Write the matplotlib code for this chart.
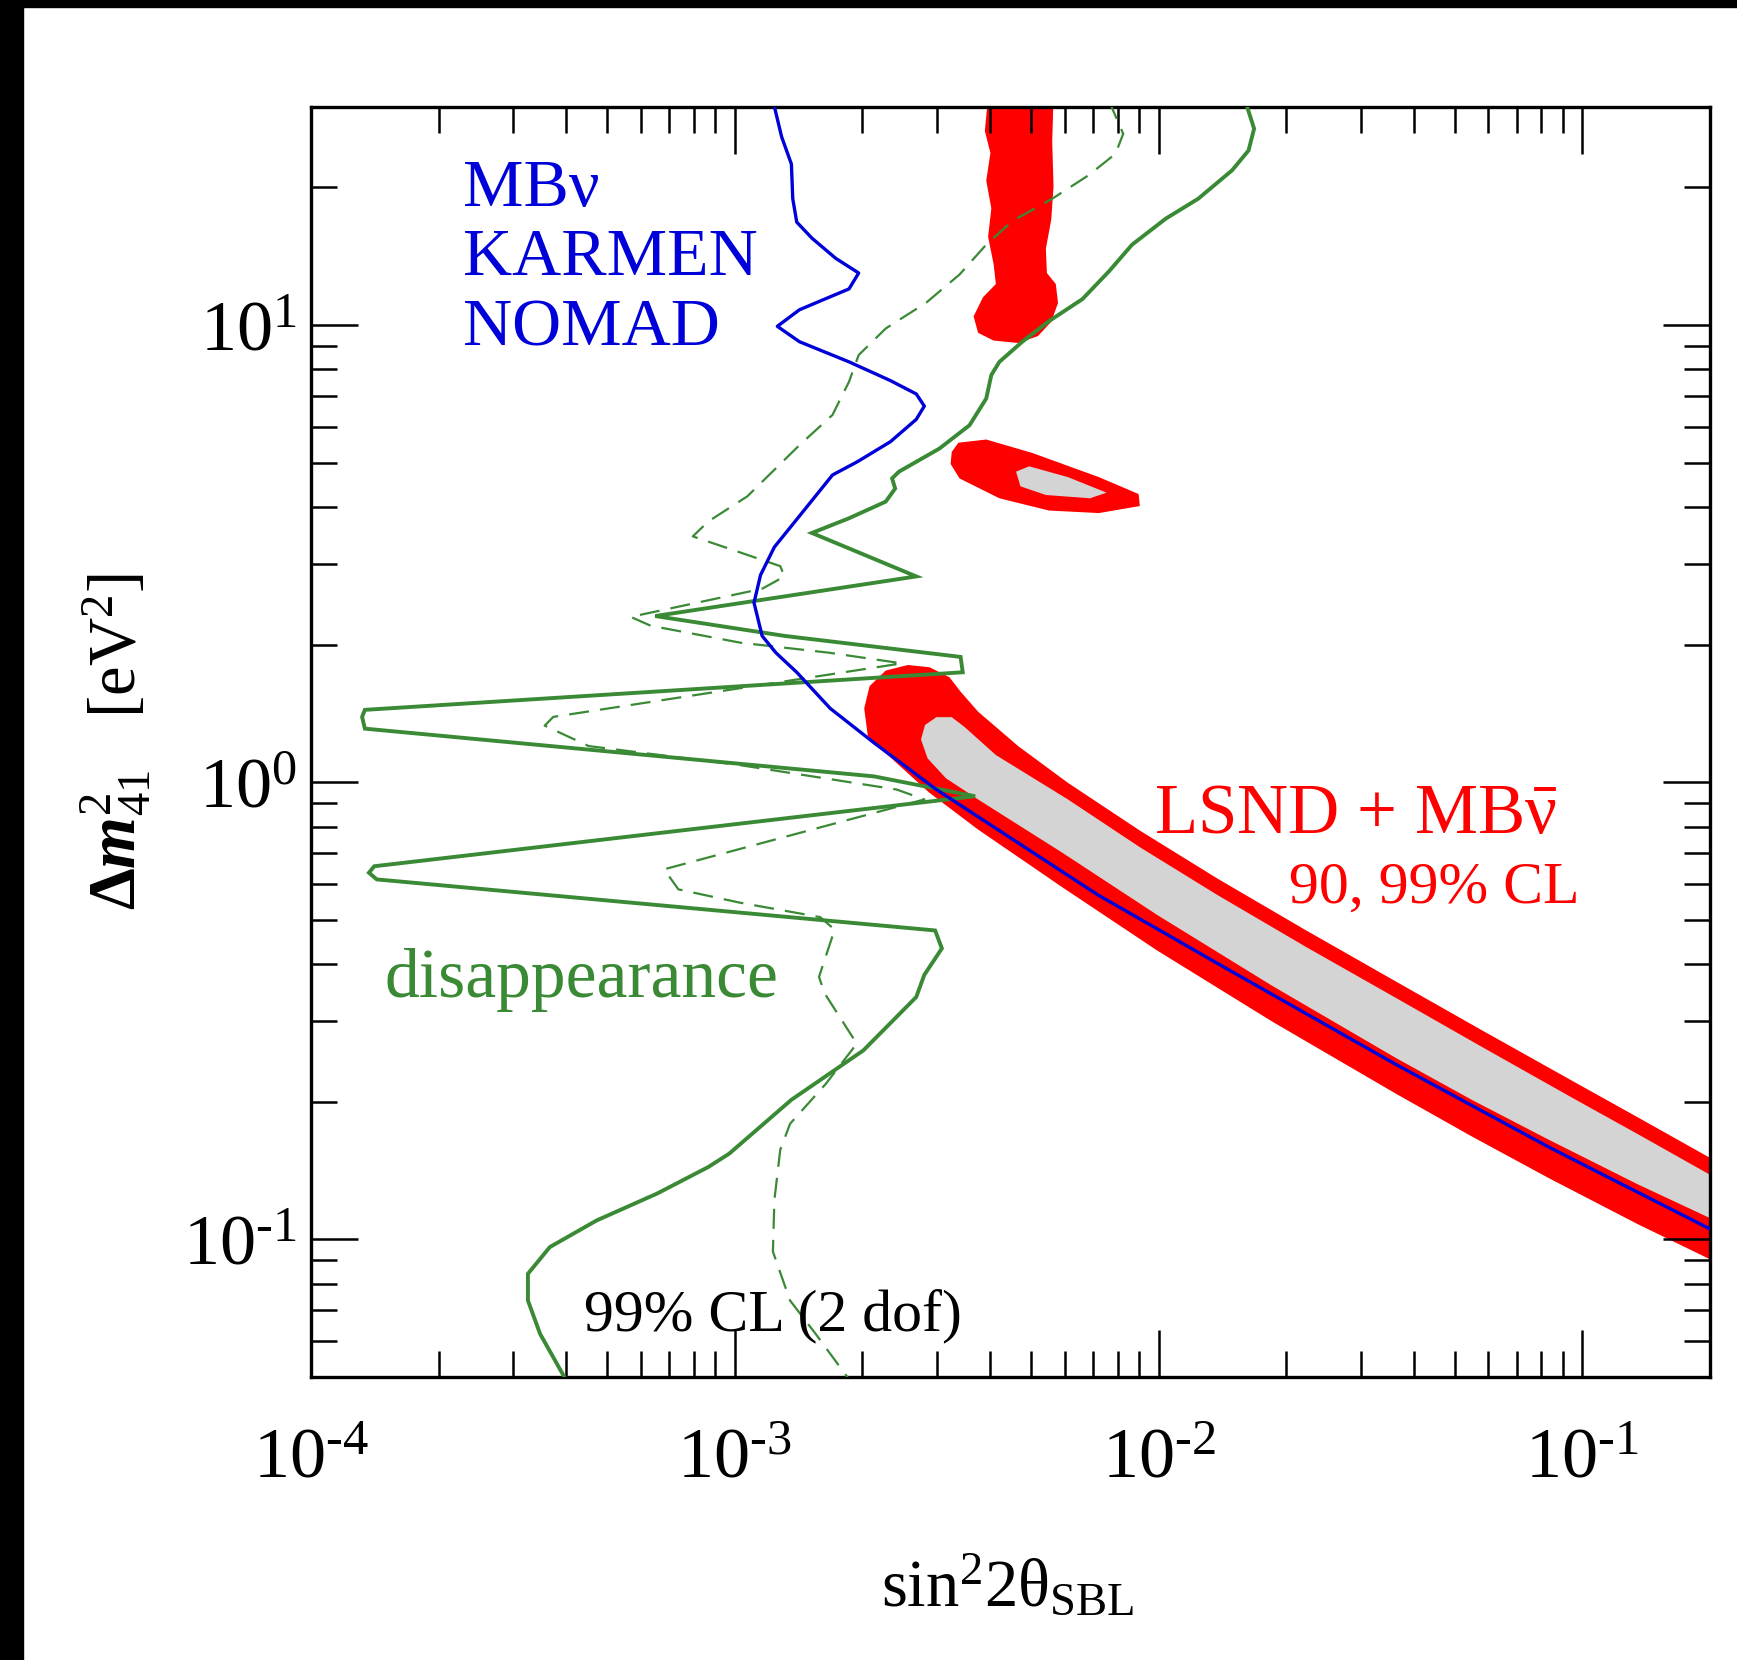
import math
import matplotlib
matplotlib.use("Agg")
import matplotlib.pyplot as plt
from matplotlib.patches import Rectangle
from matplotlib.ticker import LogLocator, NullFormatter, FuncFormatter

plt.rcParams['font.family'] = ['Liberation Serif', 'DejaVu Serif']
plt.rcParams['mathtext.fontset'] = 'custom'
plt.rcParams['mathtext.rm'] = 'Liberation Serif'
plt.rcParams['mathtext.it'] = 'Liberation Serif:italic'
plt.rcParams['mathtext.bf'] = 'Liberation Serif:bold'
plt.rcParams['mathtext.bfit'] = 'Liberation Serif:italic:bold'
plt.rcParams['axes.unicode_minus'] = False

# ---- appearance bound: MB nu + KARMEN + NOMAD (99% CL) ----
blue_x = [1.23e-3, 1.29e-3, 1.36e-3, 1.37e-3, 1.40e-3, 1.52e-3, 1.73e-3, 1.96e-3, 1.86e-3, 1.63e-3,
          1.42e-3, 1.26e-3, 1.42e-3, 1.86e-3, 2.33e-3, 2.68e-3, 2.80e-3, 2.68e-3, 2.33e-3, 1.95e-3,
          1.70e-3, 1.42e-3, 1.24e-3, 1.15e-3, 1.11e-3, 1.16e-3, 1.25e-3, 1.40e-3, 1.68e-3, 2.13e-3,
          2.99e-3, 7.19e-3, 1.38e-2, 3.64e-2, 8.35e-2, 0.21]
blue_y = [31.0, 25.8, 22.5, 18.9, 16.8, 15.5, 14.0, 13.0, 12.0, 11.4,
          10.8, 9.94, 9.20, 8.31, 7.56, 7.07, 6.65, 6.22, 5.56, 5.03,
          4.70, 3.82, 3.27, 2.84, 2.47, 2.09, 1.92, 1.74, 1.45, 1.22,
          0.964, 0.567, 0.401, 0.241, 0.159, 0.103]

# ---- disappearance bound (solid) ----
dis_x = [1.60e-2, 1.68e-2, 1.63e-2, 1.49e-2, 1.24e-2, 1.04e-2, 8.66e-3, 7.63e-3, 6.61e-3, 5.51e-3,
         4.77e-3, 4.21e-3, 4.03e-3, 3.92e-3, 3.58e-3, 3.04e-3, 2.44e-3, 2.35e-3, 2.39e-3, 2.27e-3,
         1.86e-3, 1.52e-3, 2.68e-3, 6.49e-4, 1.31e-3, 3.41e-3, 3.45e-3, 1.34e-4, 1.32e-4, 1.34e-4,
         2.13e-3, 3.69e-3, 1.41e-4, 1.37e-4, 1.43e-4, 2.97e-3, 3.08e-3, 2.80e-3, 2.68e-3, 2.01e-3,
         1.36e-3, 9.70e-4, 8.66e-4, 6.56e-4, 4.72e-4, 3.66e-4, 3.25e-4, 3.25e-4, 3.47e-4, 3.99e-4]
dis_y = [31.0, 26.9, 24.1, 21.8, 18.9, 17.1, 15.0, 13.1, 11.4, 10.2,
         9.20, 8.31, 7.78, 6.91, 6.04, 5.37, 4.78, 4.62, 4.39, 4.11,
         3.78, 3.51, 2.82, 2.31, 2.09, 1.88, 1.74, 1.44, 1.39, 1.31,
         1.03, 0.932, 0.655, 0.634, 0.613, 0.474, 0.433, 0.379, 0.339, 0.259,
         0.202, 0.154, 0.144, 0.126, 0.110, 0.0962, 0.0841, 0.0735, 0.0622, 0.0494]

# ---- disappearance bound (dashed) ----
dis2_x = [7.63e-3, 8.25e-3, 7.91e-3, 6.85e-3, 5.61e-3, 4.52e-3, 3.92e-3, 3.39e-3, 2.83e-3, 2.27e-3,
          1.96e-3, 1.86e-3, 1.70e-3, 1.42e-3, 1.07e-3, 8.66e-4, 7.96e-4, 9.82e-4, 1.28e-3, 1.31e-3,
          1.16e-3, 6.33e-4, 5.68e-4, 6.33e-4, 1.03e-3, 1.67e-3, 2.48e-3, 3.73e-4, 3.56e-4, 4.52e-4,
          1.03e-3, 2.41e-3, 2.80e-3, 6.81e-4, 7.36e-4, 1.03e-3, 1.59e-3, 1.72e-3, 1.58e-3, 1.63e-3,
          1.94e-3, 1.64e-3, 1.35e-3, 1.28e-3, 1.24e-3, 1.23e-3, 1.35e-3, 1.55e-3, 1.86e-3]
dis2_y = [31.0, 26.2, 23.7, 21.3, 18.9, 16.9, 15.0, 12.9, 11.2, 9.83,
          8.60, 7.52, 6.36, 5.46, 4.22, 3.72, 3.45, 3.23, 2.97, 2.82,
          2.65, 2.35, 2.30, 2.20, 2.02, 1.92, 1.82, 1.39, 1.33, 1.20,
          1.09, 0.964, 0.917, 0.645, 0.583, 0.545, 0.507, 0.476, 0.375, 0.345,
          0.268, 0.219, 0.179, 0.157, 0.122, 0.0940, 0.0735, 0.0622, 0.0494]

# ---- LSND + MB anti-nu allowed regions ----
# high-mass column (99% CL)
col99_x = [3.96e-3, 3.89e-3, 4.01e-3, 3.92e-3, 4.03e-3, 3.96e-3, 4.08e-3, 4.13e-3, 3.85e-3, 3.66e-3,
           3.75e-3, 4.08e-3, 4.66e-3, 5.19e-3, 5.58e-3, 5.79e-3, 5.72e-3, 5.45e-3, 5.42e-3, 5.58e-3,
           5.65e-3, 5.61e-3, 5.65e-3]
col99_y = [31.5, 26.6, 23.8, 20.7, 18.0, 15.6, 13.6, 12.3, 11.5, 10.45,
           9.62, 9.25, 9.14, 9.46, 10.17, 11.18, 12.3, 13.0, 14.7, 17.0,
           20.1, 25.2, 31.5]
# island near 4-5 eV^2
isl99_x = [3.25e-3, 3.37e-3, 3.92e-3, 5.04e-3, 7.23e-3, 8.97e-3, 9.03e-3, 7.23e-3, 5.51e-3, 4.21e-3, 3.39e-3, 3.23e-3]
isl99_y = [5.28, 5.53, 5.62, 5.25, 4.65, 4.27, 4.02, 3.88, 3.93, 4.18, 4.62, 4.97]
isl90_x = [4.61e-3, 4.95e-3, 6.11e-3, 7.54e-3, 6.89e-3, 5.42e-3, 4.72e-3]
isl90_y = [4.78, 4.91, 4.65, 4.30, 4.18, 4.25, 4.44]
# main band, 99% CL
band99_x = [2.06e-3, 2.02e-3, 2.08e-3, 2.27e-3, 2.56e-3, 2.88e-3, 3.21e-3, 3.41e-3, 3.75e-3, 4.66e-3,
            6.11e-3, 9.03e-3, 1.375e-2, 2.23e-2, 3.64e-2, 5.82e-2, 9.65e-2, 0.135, 0.21, 0.21,
            0.135, 8.35e-2, 5.48e-2, 3.64e-2, 1.86e-2, 9.94e-3, 5.93e-3, 3.75e-3, 2.88e-3, 2.31e-3,
            2.13e-3]
band99_y = [1.262, 1.451, 1.623, 1.755, 1.805, 1.785, 1.697, 1.578, 1.427, 1.20,
            0.997, 0.784, 0.616, 0.474, 0.366, 0.286, 0.220, 0.185, 0.147, 0.0885,
            0.108, 0.136, 0.168, 0.208, 0.299, 0.428, 0.589, 0.788, 0.948, 1.141,
            1.213]
# main band, 90% CL
band90_x = [2.75e-3, 2.81e-3, 2.99e-3, 3.25e-3, 3.49e-3, 4.13e-3, 6.11e-3, 9.03e-3, 1.375e-2, 2.23e-2,
            3.64e-2, 5.82e-2, 9.65e-2, 0.135, 0.21, 0.21, 0.135, 8.35e-2, 5.48e-2, 3.64e-2,
            1.86e-2, 9.94e-3, 5.93e-3, 3.75e-3, 3.15e-3, 2.85e-3]
band90_y = [1.24, 1.334, 1.388, 1.388, 1.319, 1.147, 0.917, 0.721, 0.567, 0.436,
            0.337, 0.263, 0.202, 0.170, 0.135, 0.109, 0.132, 0.165, 0.202, 0.249,
            0.358, 0.512, 0.701, 0.917, 1.02, 1.128]

RED = '#ff0000'
GRAY = '#d4d4d4'
GREEN = '#3a8a35'
BLUE = '#0000d8'


def decade_label(value, pos):
    """Power-of-ten label with a plain hyphen for negative exponents."""
    exp = int(round(math.log10(value)))
    if exp < 0:
        return r'$\mathdefault{10^{\text{-}%d}}$' % (-exp)
    return r'$\mathdefault{10^{%d}}$' % exp


fig = plt.figure(figsize=(17.37, 16.60), dpi=100)
ax = fig.add_axes([311/1737, 1 - 1377/1660, (1710-311)/1737, (1377-107)/1660])
ax.set_xscale('log')
ax.set_yscale('log')
ax.set_xlim(1e-4, 0.2)
ax.set_ylim(0.05, 30)

ax.fill(col99_x, col99_y, color=RED, lw=0, zorder=1)
ax.fill(isl99_x, isl99_y, color=RED, lw=0, zorder=1)
ax.fill(isl90_x, isl90_y, color=GRAY, lw=0, zorder=2)
ax.fill(band99_x, band99_y, color=RED, lw=0, zorder=1)
ax.fill(band90_x, band90_y, color=GRAY, lw=0, zorder=2)

ax.plot(dis_x, dis_y, color=GREEN, lw=2.8, zorder=3, solid_joinstyle='miter')
ax.plot(dis2_x, dis2_y, color=GREEN, lw=1.6, zorder=3, dashes=(9, 5))
ax.plot(blue_x, blue_y, color=BLUE, lw=2.4, zorder=4)

# annotations
ax.text(2.28e-4, 18.2, 'MBν', color=BLUE, fontsize=49, va='baseline', ha='left')
ax.text(2.28e-4, 12.86, 'KARMEN', color=BLUE, fontsize=49, va='baseline', ha='left')
ax.text(2.28e-4, 9.04, 'NOMAD', color=BLUE, fontsize=49, va='baseline', ha='left')
ax.text(1.49e-4, 0.3387, 'disappearance', color=GREEN, fontsize=50, va='baseline', ha='left')
ax.text(4.41e-4, 0.0632, '99% CL (2 dof)', color='black', fontsize=43, va='baseline', ha='left')
ax.text(9.76e-3, 0.775, r'LSND + MB$\bar{\mathrm{ν}}$', color=RED, fontsize=51,
        va='baseline', ha='left')
ax.text(2.03e-2, 0.545, '90, 99% CL', color=RED, fontsize=43, va='baseline', ha='left')

# axes styling
for s in ax.spines.values():
    s.set_linewidth(2.4)
ax.xaxis.set_major_locator(LogLocator(base=10, numticks=20))
ax.yaxis.set_major_locator(LogLocator(base=10, numticks=20))
ax.xaxis.set_minor_locator(LogLocator(base=10, subs=range(2, 10), numticks=40))
ax.yaxis.set_minor_locator(LogLocator(base=10, subs=range(2, 10), numticks=40))
ax.xaxis.set_major_formatter(FuncFormatter(decade_label))
ax.yaxis.set_major_formatter(FuncFormatter(decade_label))
ax.xaxis.set_minor_formatter(NullFormatter())
ax.yaxis.set_minor_formatter(NullFormatter())
ax.tick_params(which='both', direction='in', top=True, right=True, width=1.8, color='black')
ax.tick_params(which='major', length=34, labelsize=52)
ax.tick_params(which='minor', length=19)
ax.tick_params(axis='x', which='major', pad=36)
ax.tick_params(axis='y', which='major', pad=10)

fig.text(1008/1737, 1 - 1606/1660, r'$\mathrm{sin}^{2}\mathrm{2θ}_{\mathrm{SBL}}$',
         fontsize=48, ha='center', va='baseline')
fig.text(116/1737, 1 - 742/1660, r'$\mathbf{\Delta}\mathbfit{m}^{2}_{41}$   [eV$^{2}$]',
         fontsize=48, ha='center', va='center', rotation=90)

# dark frame strips along the top and left edges
fig.patches.append(Rectangle((0, 1 - 7/1660), 1, 7/1660, transform=fig.transFigure,
                             color='black', zorder=10))
fig.patches.append(Rectangle((0, 0), 23/1737, 1, transform=fig.transFigure,
                             color='black', zorder=10))

fig.savefig('out.png', dpi=100)
